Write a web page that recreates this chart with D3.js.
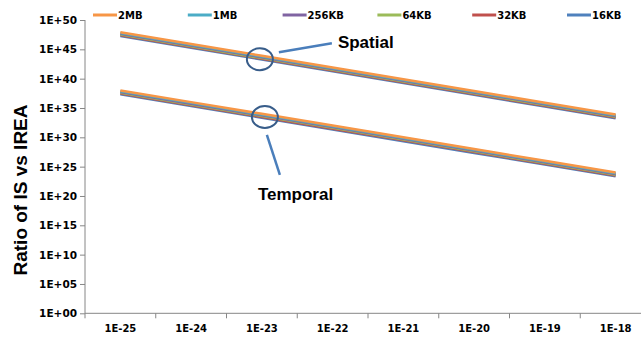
<!DOCTYPE html>
<html>
<head>
<meta charset="utf-8">
<script src="https://cdn.jsdelivr.net/npm/d3@7"></script>
<style>
  body { margin: 0; background: #fff; }
  svg { display: block; }
</style>
</head>
<body>
<div class="chart"></div>
<script>
// categories on the x axis (error probability)
var categories = ["1E-25", "1E-24", "1E-23", "1E-22", "1E-21", "1E-20", "1E-19", "1E-18"];
var yTickValues = [1e0, 1e5, 1e10, 1e15, 1e20, 1e25, 1e30, 1e35, 1e40, 1e45, 1e50];
var seriesNames = ["2MB", "1MB", "256KB", "64KB", "32KB", "16KB"];
var seriesColors = ["#F79646", "#4BACC6", "#8064A2", "#9BBB59", "#C0504D", "#4F81BD"];

// spatial group, one array per cache size
var spatial2MB   = [7.9e47, 7.9e45, 7.9e43, 7.9e41, 7.9e39, 7.9e37, 7.9e35, 7.9e33];
var spatial1MB   = [5.9e47, 5.9e45, 5.9e43, 5.9e41, 5.9e39, 5.9e37, 5.9e35, 5.9e33];
var spatial256KB = [4.4e47, 4.4e45, 4.4e43, 4.4e41, 4.4e39, 4.4e37, 4.4e35, 4.4e33];
var spatial64KB  = [3.2e47, 3.2e45, 3.2e43, 3.2e41, 3.2e39, 3.2e37, 3.2e35, 3.2e33];
var spatial32KB  = [2.4e47, 2.4e45, 2.4e43, 2.4e41, 2.4e39, 2.4e37, 2.4e35, 2.4e33];
var spatial16KB  = [1.8e47, 1.8e45, 1.8e43, 1.8e41, 1.8e39, 1.8e37, 1.8e35, 1.8e33];

// temporal group
var temporal2MB   = [1.0e38, 1.0e36, 1.0e34, 1.0e32, 1.0e30, 1.0e28, 1.0e26, 1.0e24];
var temporal1MB   = [7.4e37, 7.4e35, 7.4e33, 7.4e31, 7.4e29, 7.4e27, 7.4e25, 7.4e23];
var temporal256KB = [5.5e37, 5.5e35, 5.5e33, 5.5e31, 5.5e29, 5.5e27, 5.5e25, 5.5e23];
var temporal64KB  = [4.1e37, 4.1e35, 4.1e33, 4.1e31, 4.1e29, 4.1e27, 4.1e25, 4.1e23];
var temporal32KB  = [3.0e37, 3.0e35, 3.0e33, 3.0e31, 3.0e29, 3.0e27, 3.0e25, 3.0e23];
var temporal16KB  = [2.2e37, 2.2e35, 2.2e33, 2.2e31, 2.2e29, 2.2e27, 2.2e25, 2.2e23];

var spatialSeries = [spatial2MB, spatial1MB, spatial256KB, spatial64KB, spatial32KB, spatial16KB];
var temporalSeries = [temporal2MB, temporal1MB, temporal256KB, temporal64KB, temporal32KB, temporal16KB];

// callouts: label, circled point (category + value), label position
var annotations = [
    { "label": "Spatial", "cat": "1E-23", "value": 2e43, "dx": -2, "lineFrom": [19, -7], "lineTo": [72, -16], "textAt": [78, -11] },
    { "label": "Temporal", "cat": "1E-23", "value": 3e33, "dx": 3, "lineFrom": [2, 18], "lineTo": [15, 58], "textAt": [-7, 83] }
];

var width = 641, height = 340;
var margin = { left: 85, top: 20 };
var plotWidth = 566, plotBottom = 313.3;

var svg = d3.select('.chart')
    .append('svg')
    .attr('width', width)
    .attr('height', height);

var x = d3.scaleBand()
    .domain(categories)
    .range([margin.left, margin.left + plotWidth]);

var y = d3.scaleLog()
    .domain([1e0, 1e50])
    .range([plotBottom, margin.top]);

var axisColor = "#868686";
var tickFont = "'DejaVu Sans', sans-serif";

// y axis
var yAxis = svg.append('g')
    .attr('transform', 'translate(' + margin.left + ',0)')
    .call(d3.axisLeft(y)
        .tickValues(yTickValues)
        .tickSize(5)
        .tickPadding(3)
        .tickFormat(function(d) {
            var e = Math.round(Math.log10(d));
            return "1E+" + (e < 10 ? "0" + e : e);
        }));
yAxis.select('.domain').attr('stroke', axisColor).attr('d', 'M0,' + margin.top + 'V' + plotBottom);
yAxis.selectAll('.tick line').attr('stroke', axisColor);
yAxis.selectAll('.tick text')
    .attr('fill', '#000')
    .attr('font-family', tickFont)
    .attr('font-weight', 'bold')
    .attr('font-size', '10.5px');

// x axis: labels at category centres, tick marks between categories
var xAxis = svg.append('g')
    .attr('transform', 'translate(0,' + plotBottom + ')')
    .call(d3.axisBottom(x).tickSize(0).tickPadding(12));
xAxis.select('.domain').attr('stroke', axisColor).attr('d', 'M' + margin.left + ',0H' + (margin.left + plotWidth));
xAxis.selectAll('.tick text')
    .attr('fill', '#000')
    .attr('font-family', tickFont)
    .attr('font-weight', 'bold')
    .attr('font-size', '10px');
xAxis.selectAll('.sep')
    .data(categories)
    .enter()
    .append('line')
    .attr('class', 'sep')
    .attr('x1', function(d) { return x(d); })
    .attr('x2', function(d) { return x(d); })
    .attr('y1', 0)
    .attr('y2', 5)
    .attr('stroke', axisColor);

// y axis title
svg.append('text')
    .attr('transform', 'translate(27,190) rotate(-90)')
    .attr('text-anchor', 'middle')
    .attr('font-family', "'Liberation Sans', Arial, sans-serif")
    .attr('font-weight', 'bold')
    .attr('font-size', '19px')
    .text('Ratio of IS vs IREA');

// lines, smallest cache first so 2MB ends on top
var line = d3.line()
    .x(function(d, i) { return x(categories[i]) + x.bandwidth() / 2; })
    .y(function(d) { return y(d); });

[spatialSeries, temporalSeries].forEach(function(group) {
    for (var i = group.length - 1; i >= 0; i--) {
        svg.append('path')
            .datum(group[i])
            .attr('d', line)
            .attr('fill', 'none')
            .attr('stroke', seriesColors[i])
            .attr('stroke-width', 2.5);
    }
});

// callouts
annotations.forEach(function(a) {
    var cx = x(a.cat) + x.bandwidth() / 2 + a.dx;
    var cy = y(a.value);
    svg.append('ellipse')
        .attr('cx', cx)
        .attr('cy', cy)
        .attr('rx', 13)
        .attr('ry', 11)
        .attr('fill', 'none')
        .attr('stroke', '#385D8A')
        .attr('stroke-width', 2);
    svg.append('line')
        .attr('x1', cx + a.lineFrom[0])
        .attr('y1', cy + a.lineFrom[1])
        .attr('x2', cx + a.lineTo[0])
        .attr('y2', cy + a.lineTo[1])
        .attr('stroke', '#4A7EBB')
        .attr('stroke-width', 2.5);
    svg.append('text')
        .attr('x', cx + a.textAt[0])
        .attr('y', cy + a.textAt[1])
        .attr('font-family', "'Liberation Sans', Arial, sans-serif")
        .attr('font-weight', 'bold')
        .attr('font-size', '17px')
        .text(a.label);
});

// legend across the top
var legend = svg.selectAll('.legend')
    .data(seriesNames)
    .enter()
    .append('g')
    .attr('class', 'legend')
    .attr('transform', function(d, i) { return 'translate(' + (93 + i * 94.8) + ',15)'; });
legend.append('line')
    .attr('x1', 0)
    .attr('x2', 24)
    .attr('stroke', function(d, i) { return seriesColors[i]; })
    .attr('stroke-width', 3);
legend.append('text')
    .attr('x', 25)
    .attr('y', 3.5)
    .attr('font-family', tickFont)
    .attr('font-weight', 'bold')
    .attr('font-size', '10px')
    .text(function(d) { return d; });
</script>
</body>
</html>
